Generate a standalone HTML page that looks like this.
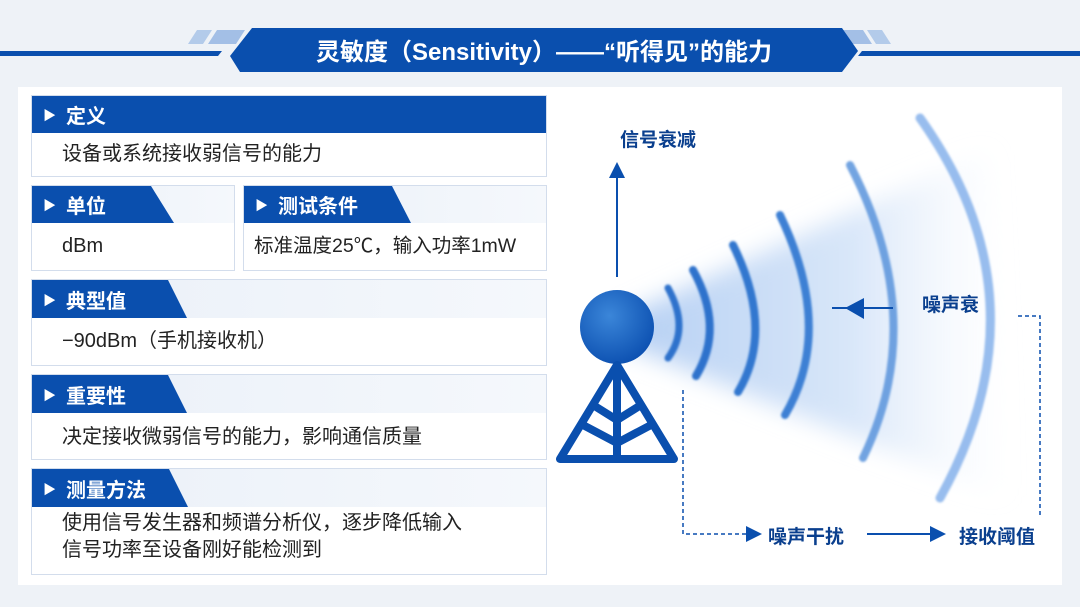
<!DOCTYPE html>
<html><head><meta charset="utf-8"><style>
body{margin:0;width:1080px;height:607px;overflow:hidden;background:#eef2f7;font-family:"Liberation Sans","Noto Sans CJK SC",sans-serif;position:relative}
.a{position:absolute}
.panel{left:18px;top:87px;width:1044px;height:498px;background:#fff}
.card{position:absolute;left:31px;background:#fff;border:1px solid #d3ddec;box-sizing:border-box}
.hd{position:absolute;left:0;top:0;right:0;background:linear-gradient(90deg,#eaf0f8,#f5f8fc)}
.tab{position:absolute;left:0;top:0;height:100%;background:#0a4fae;color:#fff;font-weight:bold;font-size:20px;display:flex;align-items:center}
.tab span.t{font-size:13px;margin:0 10px 0 11px}
.bd{position:absolute;left:30px;font-size:20px;color:#222;line-height:26px}
</style></head><body>
<svg class="a" style="left:0;top:0" width="1080" height="90">
<polygon points="0,51 222,51 218,56 0,56" fill="#0a4fae"/>
<polygon points="862,51 1080,51 1080,56 858,56" fill="#0a4fae"/>
<polygon points="197,30 212,30 203,44 188,44" fill="#b3cbea"/>
<polygon points="217,30 245,30 236,44 208,44" fill="#a3bfe6"/>
<polygon points="835,30 863,30 872,44 844,44" fill="#a3bfe6"/>
<polygon points="867,30 882,30 891,44 876,44" fill="#b3cbea"/>
<polygon points="252,28 842,28 858,51 842,72 240,72 230,56" fill="#0a4fae"/>
<text x="544" y="60" text-anchor="middle" fill="#fff" font-size="24" font-weight="bold" font-family="Liberation Sans,Noto Sans CJK SC,sans-serif">灵敏度（Sensitivity）——“听得见”的能力</text>
</svg>
<div class="a panel"></div>

<div class="card" style="top:95px;width:516px;height:82px"><div class="hd" style="height:37px;background:#0a4fae"><div class="tab" style="width:100%"><span class="t">▶</span>定义</div></div><div class="bd" style="top:45px">设备或系统接收弱信号的能力</div></div>

<div class="card" style="top:185px;width:204px;height:86px"><div class="hd" style="height:37px"><div class="tab" style="width:142px;clip-path:polygon(0 0,119px 0,142px 100%,0 100%)"><span class="t">▶</span>单位</div></div><div class="bd" style="top:47px">dBm</div></div>
<div class="card" style="left:243px;top:185px;width:304px;height:86px"><div class="hd" style="height:37px"><div class="tab" style="width:167px;clip-path:polygon(0 0,148px 0,167px 100%,0 100%)"><span class="t">▶</span>测试条件</div></div><div class="bd" style="top:47px;left:10px;font-size:19.5px">标准温度25℃，输入功率1mW</div></div>

<div class="card" style="top:279px;width:516px;height:87px"><div class="hd" style="height:38px"><div class="tab" style="width:155px;clip-path:polygon(0 0,136px 0,155px 100%,0 100%)"><span class="t">▶</span>典型值</div></div><div class="bd" style="top:48px">−90dBm（手机接收机）</div></div>

<div class="card" style="top:374px;width:516px;height:86px"><div class="hd" style="height:38px"><div class="tab" style="width:155px;clip-path:polygon(0 0,136px 0,155px 100%,0 100%)"><span class="t">▶</span>重要性</div></div><div class="bd" style="top:49px">决定接收微弱信号的能力，影响通信质量</div></div>

<div class="card" style="top:468px;width:516px;height:107px"><div class="hd" style="height:38px"><div class="tab" style="width:156px;clip-path:polygon(0 0,137px 0,156px 100%,0 100%)"><span class="t">▶</span>测量方法</div></div><div class="bd" style="top:41px;line-height:27px">使用信号发生器和频谱分析仪，逐步降低输入<br>信号功率至设备刚好能检测到</div></div>

<svg class="a" style="left:0;top:0" width="1080" height="607">
<defs>
<linearGradient id="cone" x1="0" x2="1"><stop offset="0" stop-color="#b6d0f3"/><stop offset="0.6" stop-color="#d9e7f9"/><stop offset="1" stop-color="#f3f7fd" stop-opacity="0"/></linearGradient>
<radialGradient id="ball" cx="0.4" cy="0.35" r="0.7"><stop offset="0" stop-color="#3b86d9"/><stop offset="1" stop-color="#0b4fb0"/></radialGradient>
<filter id="bl" x="-20%" y="-20%" width="140%" height="140%"><feGaussianBlur stdDeviation="12"/></filter>
<filter id="bl2"><feGaussianBlur stdDeviation="1"/></filter>
<marker id="ar" markerWidth="8" markerHeight="8" refX="7" refY="4" orient="auto"><path d="M0,0L8,4L0,8z" fill="#0a4fae"/></marker>
</defs>
<polygon points="625,315 990,150 1010,500 625,345" fill="url(#cone)" filter="url(#bl)"/>
<g fill="none" stroke-linecap="round" filter="url(#bl2)">
<path d="M668,288 Q690,328 668,358" stroke="#2f72cc" stroke-width="7"/>
<path d="M693,270 Q725,328 696,376" stroke="#2f72cc" stroke-width="8"/>
<path d="M733,245 Q775,330 738,392" stroke="#3377cf" stroke-width="8"/>
<path d="M780,215 Q835,330 785,415" stroke="#3d80d4" stroke-width="8"/>
<path d="M850,165 Q930,320 863,458" stroke="#5a94dc" stroke-width="8" opacity="0.85"/>
<path d="M920,118 Q1050,300 940,498" stroke="#7eacea" stroke-width="9" opacity="0.8"/>
</g>
<circle cx="617" cy="327" r="37" fill="url(#ball)"/>
<g stroke="#0a4fae" stroke-width="8" fill="none" stroke-linejoin="round">
<polygon points="617,365 560,459 674,459"/>
<path d="M617,370V459M593,405 617,420 641,405M583,425 617,443 651,425"/>
</g>
<line x1="617" y1="277" x2="617" y2="164" stroke="#0a4fae" stroke-width="2" marker-end="url(#ar)"/>
<text x="620" y="146" fill="#0a3f8e" font-size="19" font-weight="bold">信号衰减</text>
<line x1="893" y1="308" x2="832" y2="308" stroke="#0a4fae" stroke-width="2"/>
<polygon points="845,308 864,298 864,319" fill="#0a4fae"/>
<text x="922" y="311" fill="#0a3f8e" font-size="19" font-weight="bold">噪声衰</text>
<path d="M683,390V534H756" stroke="#0a4fae" stroke-width="1.5" stroke-dasharray="4,3" fill="none"/>
<line x1="750" y1="534" x2="760" y2="534" stroke="#0a4fae" stroke-width="2" marker-end="url(#ar)"/>
<text x="768" y="543" fill="#0a3f8e" font-size="19" font-weight="bold">噪声干扰</text>
<line x1="867" y1="534" x2="944" y2="534" stroke="#0a4fae" stroke-width="2" marker-end="url(#ar)"/>
<text x="959" y="543" fill="#0a3f8e" font-size="19" font-weight="bold">接收阈值</text>
<path d="M1018,316H1040V515" stroke="#0a4fae" stroke-width="1.5" stroke-dasharray="4,3" fill="none"/>
<text x="932" y="576" fill="#fff" font-size="22" font-weight="bold" opacity="0.9">豆包AI生成</text>
</svg>
</body></html>
